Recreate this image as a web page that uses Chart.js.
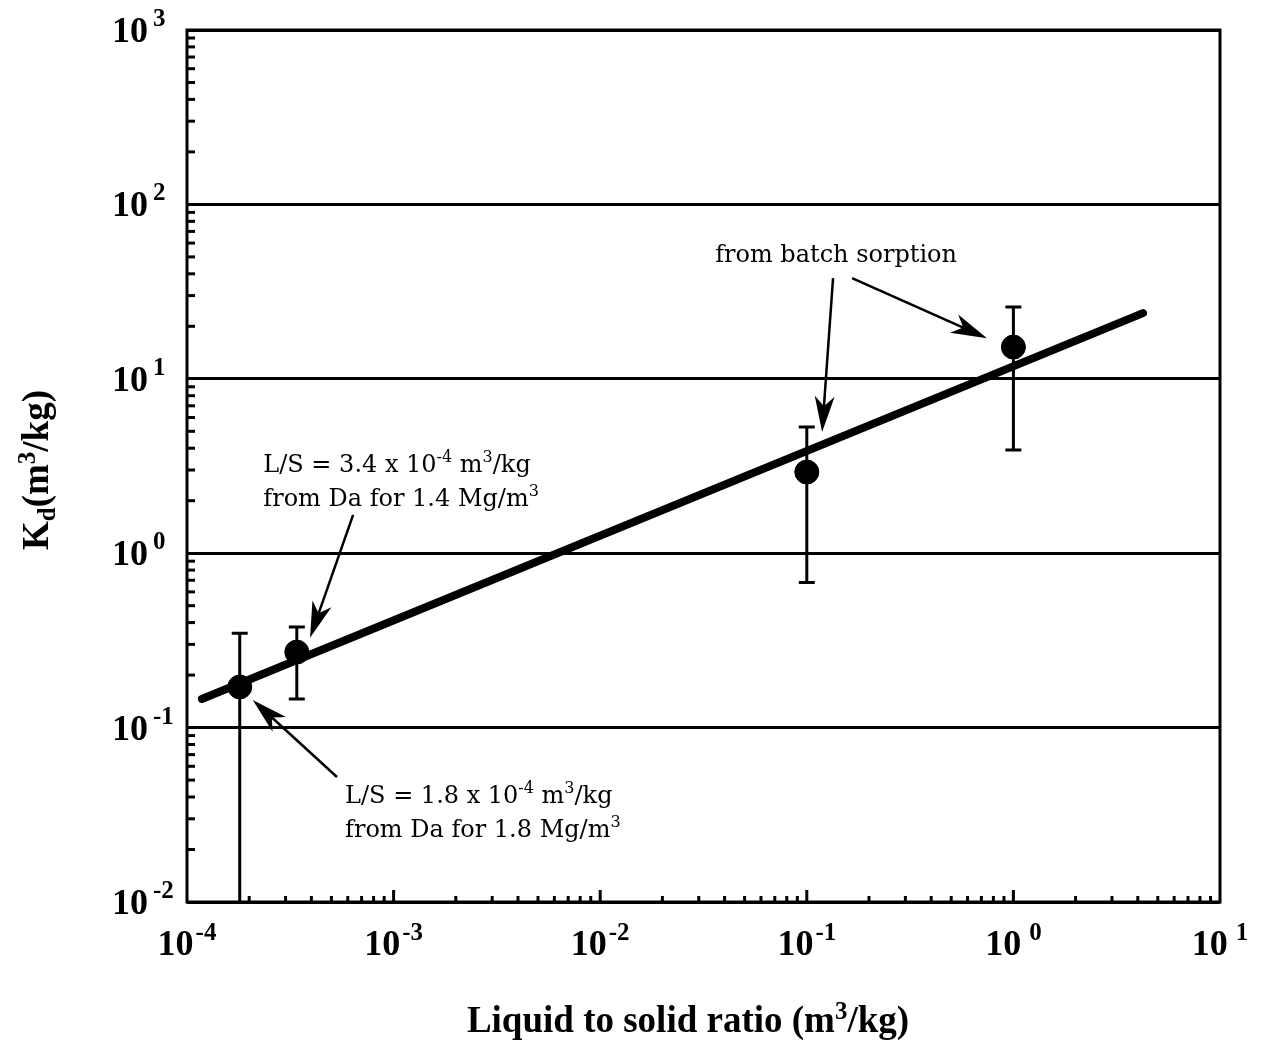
<!DOCTYPE html>
<html>
<head>
<meta charset="utf-8">
<title>Kd vs liquid to solid ratio</title>
<script src="https://cdn.jsdelivr.net/npm/chart.js@4.4.1/dist/chart.umd.min.js"></script>
<style>
  html, body { margin: 0; padding: 0; background: #fff; }
  #wrap { width: 1263px; height: 1046px; position: relative; }
</style>
</head>
<body>
<div id="wrap"><canvas id="kdChart"></canvas></div>
<script>
// decade exponents shown on each axis
const xTickExps = [-4, -3, -2, -1, 0, 1];
const yTickExps = [-2, -1, 0, 1, 2, 3];

// measured points (L/S in m3/kg, Kd in m3/kg) with error bar limits
const lsRatio = [1.8e-4, 3.4e-4, 0.1, 1.0];
const kd = [0.171, 0.271, 2.92, 15.2];
const kdLow = [0.01, 0.146, 0.68, 3.9];
const kdHigh = [0.348, 0.378, 5.3, 25.8];

// fitted line end points
const fitX = [1.18e-4, 4.24];
const fitY = [0.146, 23.8];

// callouts, positioned in data units ( ^{..} = superscript )
const notes = [
  { x: 2.34e-4, y: 2.92, lines: ["L/S = 3.4 x 10^{-4} m^{3}/kg", "from Da for 1.4 Mg/m^{3}"] },
  { x: 5.82e-4, y: 0.037, lines: ["L/S = 1.8 x 10^{-4} m^{3}/kg", "from Da for 1.8 Mg/m^{3}"] },
  { x: 0.036, y: 46.8, lines: ["from batch sorption"] }
];
const arrows = [
  { from: [6.37e-4, 1.66], to: [3.94e-4, 0.327] },
  { from: [5.32e-4, 0.0521], to: [2.08e-4, 0.144] },
  { from: [0.134, 37.8], to: [0.1186, 4.95] },
  { from: [0.1656, 37.8], to: [0.745, 17.1] }
];

const TICK_FONT = "bold 36px 'Liberation Serif'";
const TICK_SUP = "bold 25px 'Liberation Serif'";
const NOTE_FONT = "24px 'DejaVu Serif'";
const NOTE_SUP = "16px 'DejaVu Serif'";

function isDecade(v) {
  const l = Math.log10(v);
  return Math.abs(l - Math.round(l)) < 1e-6;
}

// split "abc^{x}def" into runs
function parseRich(str) {
  const parts = [];
  const re = /\^\{([^}]*)\}/g;
  let last = 0, m;
  while ((m = re.exec(str)) !== null) {
    if (m.index > last) parts.push({ t: str.slice(last, m.index), sup: false });
    parts.push({ t: m[1], sup: true });
    last = re.lastIndex;
  }
  if (last < str.length) parts.push({ t: str.slice(last), sup: false });
  return parts;
}

function richWidth(ctx, parts, font, supFont, gap) {
  let w = 0;
  parts.forEach(p => { ctx.font = p.sup ? supFont : font; w += ctx.measureText(p.t).width + (p.sup ? gap || 0 : 0); });
  return w;
}

function drawRich(ctx, x, y, parts, font, supFont, supRise, gap) {
  ctx.textBaseline = 'alphabetic';
  ctx.textAlign = 'left';
  parts.forEach(p => {
    ctx.font = p.sup ? supFont : font;
    if (p.sup) x += gap || 0;
    ctx.fillText(p.t, x, p.sup ? y - supRise : y);
    x += ctx.measureText(p.t).width;
  });
}

function drawArrow(ctx, x1, y1, x2, y2) {
  const ang = Math.atan2(y2 - y1, x2 - x1);
  const len = 36, half = 10, notch = 26;
  const c = Math.cos(ang), s = Math.sin(ang);
  ctx.lineWidth = 2.5;
  ctx.beginPath();
  ctx.moveTo(x1, y1);
  ctx.lineTo(x2 - c * notch, y2 - s * notch);
  ctx.stroke();
  ctx.beginPath();
  ctx.moveTo(x2, y2);
  ctx.lineTo(x2 - c * len - s * half, y2 - s * len + c * half);
  ctx.lineTo(x2 - c * notch, y2 - s * notch);
  ctx.lineTo(x2 - c * len + s * half, y2 - s * len - c * half);
  ctx.closePath();
  ctx.fill();
}

const errorBars = {
  id: 'errorBars',
  beforeDatasetsDraw(chart) {
    const ctx = chart.ctx, xs = chart.scales.x, ys = chart.scales.y;
    ctx.save();
    ctx.strokeStyle = '#000';
    ctx.lineWidth = 3;
    lsRatio.forEach((v, i) => {
      const px = xs.getPixelForValue(v);
      const top = ys.getPixelForValue(kdHigh[i]);
      const bot = ys.getPixelForValue(kdLow[i]);
      ctx.beginPath();
      ctx.moveTo(px, top); ctx.lineTo(px, bot);
      ctx.moveTo(px - 8, top); ctx.lineTo(px + 8, top);
      if (kdLow[i] > ys.min) { ctx.moveTo(px - 8, bot); ctx.lineTo(px + 8, bot); }
      ctx.stroke();
    });
    ctx.restore();
  }
};

const frameAndLabels = {
  id: 'frameAndLabels',
  afterDraw(chart) {
    const ctx = chart.ctx, a = chart.chartArea;
    const xs = chart.scales.x, ys = chart.scales.y;
    ctx.save();
    ctx.strokeStyle = '#000';
    ctx.fillStyle = '#000';

    // inward minor ticks on the left axis
    ctx.lineWidth = 3;
    for (let e = -2; e < 3; e++) {
      for (let k = 2; k <= 9; k++) {
        const py = ys.getPixelForValue(k * Math.pow(10, e));
        ctx.beginPath(); ctx.moveTo(a.left, py); ctx.lineTo(a.left + 8, py); ctx.stroke();
      }
    }
    // inward ticks on the bottom axis
    for (let e = -4; e < 1; e++) {
      for (let k = 1; k <= 9; k++) {
        if (k === 1 && e === -4) continue;
        const px = xs.getPixelForValue(k * Math.pow(10, e));
        const h = k === 1 ? 12 : 6;
        ctx.beginPath(); ctx.moveTo(px, a.bottom); ctx.lineTo(px, a.bottom - h); ctx.stroke();
      }
    }

    // frame
    ctx.lineWidth = 3;
    ctx.strokeRect(a.left, a.top, a.right - a.left, a.bottom - a.top);

    // y tick labels
    yTickExps.forEach(e => {
      const py = ys.getPixelForValue(Math.pow(10, e));
      drawRich(ctx, 112, py + 12, parseRich('10^{' + (e < 0 ? '-' : '') + Math.abs(e) + '}'),
        TICK_FONT, TICK_SUP, 16, 5);
    });
    // x tick labels
    xTickExps.forEach(e => {
      const px = xs.getPixelForValue(Math.pow(10, e));
      const parts = parseRich('10^{' + (e < 0 ? '-' : '') + Math.abs(e) + '}');
      const gap = e < 0 ? 2 : 8;
      const w = richWidth(ctx, parts, TICK_FONT, TICK_SUP, gap);
      drawRich(ctx, px - w / 2, 955, parts, TICK_FONT, TICK_SUP, 15, gap);
    });

    // axis titles
    const xt = parseRich('Liquid to solid ratio (m^{3}/kg)');
    const xf = "bold 37px 'Liberation Serif'", xsf = "bold 25px 'Liberation Serif'";
    const xw = richWidth(ctx, xt, xf, xsf, 0);
    drawRich(ctx, 688 - xw / 2, 1032, xt, xf, xsf, 13, 0);

    ctx.save();
    ctx.translate(48, 470);
    ctx.rotate(-Math.PI / 2);
    const yf = "bold 37px 'Liberation Serif'", ysf = "bold 25px 'Liberation Serif'";
    const yParts = [
      { t: 'K', r: 0, f: yf }, { t: 'd', r: -7, f: ysf }, { t: '(m', r: 0, f: yf },
      { t: '3', r: 13, f: ysf }, { t: '/kg)', r: 0, f: yf }
    ];
    let yw = 0;
    yParts.forEach(p => { ctx.font = p.f; yw += ctx.measureText(p.t).width; });
    let cx = -yw / 2;
    yParts.forEach(p => {
      ctx.font = p.f;
      ctx.fillText(p.t, cx, -p.r);
      cx += ctx.measureText(p.t).width;
    });
    ctx.restore();

    // callouts
    notes.forEach(n => {
      const px = xs.getPixelForValue(n.x), py = ys.getPixelForValue(n.y);
      n.lines.forEach((line, j) => {
        drawRich(ctx, px, py + j * 34, parseRich(line), NOTE_FONT, NOTE_SUP, 10, 0);
      });
    });
    arrows.forEach(r => {
      drawArrow(ctx, xs.getPixelForValue(r.from[0]), ys.getPixelForValue(r.from[1]),
        xs.getPixelForValue(r.to[0]), ys.getPixelForValue(r.to[1]));
    });
    ctx.restore();
  }
};

new Chart(document.getElementById('kdChart'), {
  type: 'scatter',
  data: {
    datasets: [
      {
        label: 'measured',
        data: lsRatio.map((v, i) => ({ x: v, y: kd[i] })),
        backgroundColor: '#000',
        borderColor: '#000',
        pointRadius: 12,
        pointHoverRadius: 12,
        order: 0
      },
      {
        label: 'fit',
        type: 'line',
        data: fitX.map((v, i) => ({ x: v, y: fitY[i] })),
        borderColor: '#000',
        borderWidth: 8,
        borderCapStyle: 'round',
        pointRadius: 0,
        fill: false,
        order: 1
      }
    ]
  },
  options: {
    responsive: true,
    maintainAspectRatio: false,
    animation: false,
    layout: { padding: { top: 30, right: 43, left: 0, bottom: 0 } },
    plugins: {
      legend: { display: false },
      tooltip: { enabled: false }
    },
    scales: {
      x: {
        type: 'logarithmic',
        min: 1e-4,
        max: 10,
        ticks: { display: false },
        grid: { display: false },
        border: { display: false },
        afterFit: s => { s.height = 144; }
      },
      y: {
        type: 'logarithmic',
        min: 0.01,
        max: 1000,
        ticks: { display: false },
        grid: {
          drawTicks: false,
          lineWidth: 3,
          color: c => (c.tick && isDecade(c.tick.value)) ? '#000' : 'rgba(0,0,0,0)'
        },
        border: { display: false },
        afterFit: s => { s.width = 187; }
      }
    }
  },
  plugins: [errorBars, frameAndLabels]
});
</script>
</body>
</html>
